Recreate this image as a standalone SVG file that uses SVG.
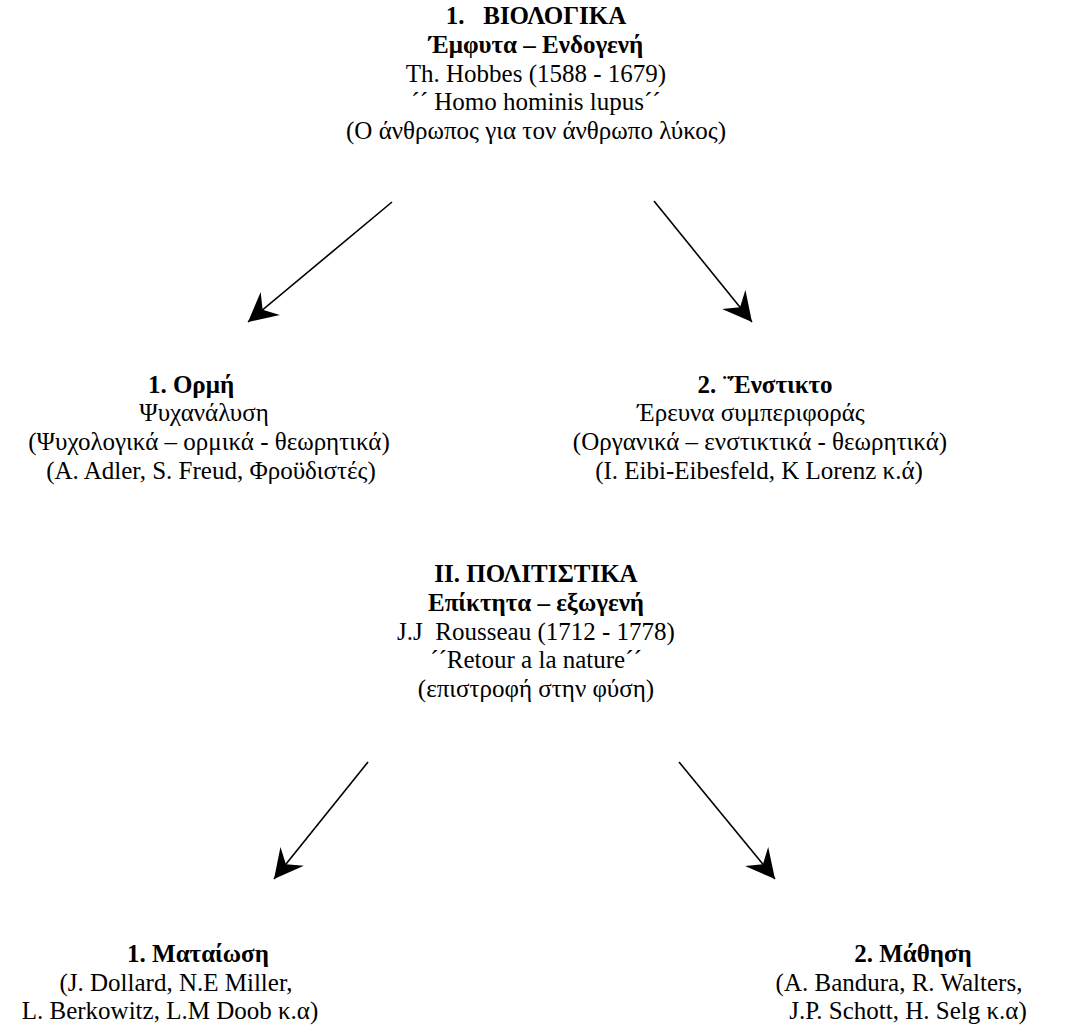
<svg xmlns="http://www.w3.org/2000/svg" width="1072" height="1029" viewBox="0 0 1072 1029">
<defs>
<marker id="ah" markerUnits="userSpaceOnUse" viewBox="-30 -16 32 32" refX="0" refY="0" markerWidth="32" markerHeight="32" orient="auto">
<path d="M0,0 L-29,-15 L-19,0 L-29,15 Z" fill="#000"/>
</marker>
<style>
text{font-family:"Liberation Serif","DejaVu Serif","Times New Roman",serif;font-size:25px;fill:#000;text-anchor:middle}
.b{font-weight:bold}
.c line{stroke:#000;stroke-width:1.6;marker-end:url(#ah)}
</style>
</defs>
<rect width="1072" height="1029" fill="#fff"/>
<g id="biologika">
<text x="536" y="24" class="b" xml:space="preserve">1.   ΒΙΟΛΟΓΙΚΑ</text>
<text x="536" y="53" class="b">Έμφυτα – Ενδογενή</text>
<text x="536" y="82">Th. Hobbes (1588 - 1679)</text>
<text x="536" y="110">´´ Homo hominis lupus´´</text>
<text x="536" y="139">(Ο άνθρωπος για τον άνθρωπο λύκος)</text>
</g>
<g id="ormi">
<text x="191" y="393" class="b">1. Ορμή</text>
<text x="204" y="421">Ψυχανάλυση</text>
<text x="209" y="450">(Ψυχολογικά – ορμικά - θεωρητικά)</text>
<text x="211" y="479">(A. Adler, S. Freud, Φροϋδιστές)</text>
</g>
<g id="enstikto">
<text x="765" y="393" class="b">2. ¨Ένστικτο</text>
<text x="751" y="421">Έρευνα συμπεριφοράς</text>
<text x="760" y="450">(Οργανικά – ενστικτικά - θεωρητικά)</text>
<text x="759" y="479">(I. Eibi-Eibesfeld, K Lorenz κ.ά)</text>
</g>
<g id="politistika">
<text x="536" y="582" class="b">ΙΙ. ΠΟΛΙΤΙΣΤΙΚΑ</text>
<text x="536" y="611" class="b">Επίκτητα – εξωγενή</text>
<text x="536" y="640" xml:space="preserve">J.J  Rousseau (1712 - 1778)</text>
<text x="536" y="668">´´Retour a la nature´´</text>
<text x="536" y="697">(επιστροφή στην φύση)</text>
</g>
<g id="mataiosi">
<text x="198" y="962" class="b">1. Ματαίωση</text>
<text x="176" y="991">(J. Dollard, N.E Miller,</text>
<text x="170" y="1019">L. Berkowitz, L.M Doob κ.α)</text>
</g>
<g id="mathisi">
<text x="913" y="962" class="b">2. Μάθηση</text>
<text x="899" y="991">(A. Bandura, R. Walters,</text>
<text x="908" y="1019">J.P. Schott, H. Selg κ.α)</text>
</g>
<g id="connectors" class="c">
<line x1="392" y1="202" x2="248" y2="322"/>
<line x1="654" y1="201" x2="752" y2="322"/>
<line x1="368" y1="762" x2="274" y2="879"/>
<line x1="679" y1="762" x2="775" y2="879"/>
</g>
</svg>
